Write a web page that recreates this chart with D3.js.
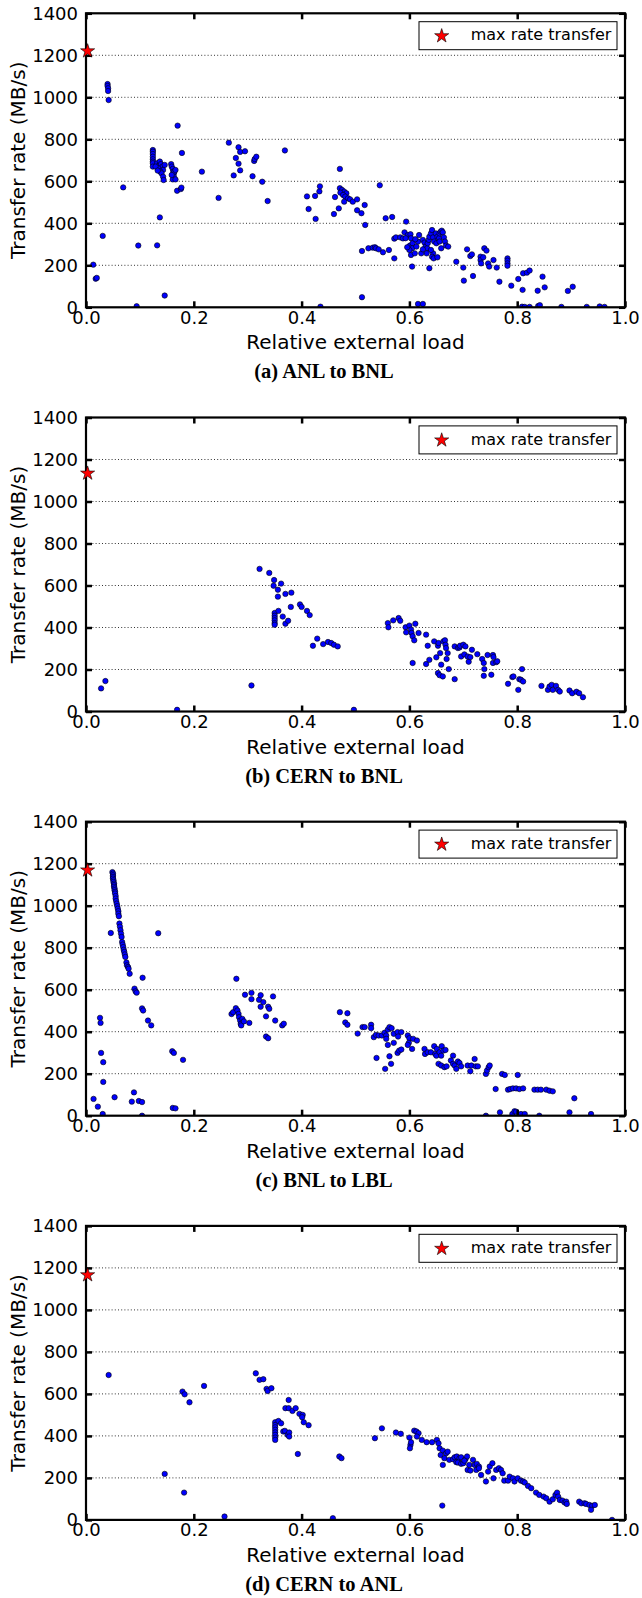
<!DOCTYPE html>
<html><head><meta charset="utf-8">
<script src="https://cdn.jsdelivr.net/npm/d3@7"></script>
<style>body{margin:0;background:#fff}</style>
</head><body>
<svg id="c" width="642" height="1598" xmlns="http://www.w3.org/2000/svg"></svg>
<script>
const xTicks = [0, 0.2, 0.4, 0.6, 0.8, 1.0];
const yTicks = [0, 200, 400, 600, 800, 1000, 1200, 1400];
const gridValues = [200, 400, 600, 800, 1000, 1200];
const captions = ["(a) ANL to BNL", "(b) CERN to BNL", "(c) BNL to LBL", "(d) CERN to ANL"];
const xLabel = "Relative external load";
const yLabel = "Transfer rate (MB/s)";
const legendLabel = "max rate transfer";
const maxRate = [1220, 1134, 1169, 1166];
const maxLoad = [0.003, 0.003, 0.003, 0.003];

const anlToBnl = [
[0.0135,203],[0.018,136],[0.020,140],[0.031,340],[0.040,1063],[0.040,1054],[0.041,1043],[0.041,1030],[0.042,987],[0.069,571],[0.094,5],[0.097,294],
[0.124,749],[0.124,741],[0.124,730],[0.124,717],[0.124,705],[0.124,694],[0.124,686],[0.124,670],
[0.132,686],[0.135,674],[0.137,694],[0.139,682],[0.142,670],[0.143,654],[0.134,662],[0.138,646],[0.140,638],[0.143,622],[0.144,606],[0.129,670],[0.133,651],[0.146,678],
[0.158,682],[0.159,670],[0.161,659],[0.162,646],[0.163,638],[0.164,646],[0.166,654],[0.163,622],[0.161,609],[0.166,609],[0.159,630],
[0.169,555],[0.176,563],[0.177,570],[0.170,865],[0.178,735],[0.132,295],[0.137,428],[0.146,56],
[0.215,646],[0.246,521],[0.265,784],[0.274,628],[0.278,711],[0.283,762],[0.286,740],[0.283,684],[0.286,652],[0.295,743],[0.309,624],[0.312,697],[0.313,706],[0.316,717],[0.327,598],[0.337,506],[0.369,747],
[0.410,528],[0.413,468],[0.425,530],[0.426,421],[0.433,552],[0.434,576],[0.435,3],[0.460,444],[0.462,525],[0.469,471],[0.471,659],[0.471,567],[0.475,559],[0.479,551],[0.483,543],[0.472,546],[0.477,535],[0.481,527],[0.486,519],[0.490,514],[0.479,503],[0.495,503],[0.503,514],[0.503,462],
[0.511,448],[0.517,487],[0.518,392],[0.545,581],[0.556,424],[0.568,430],[0.594,408],[0.512,48],[0.512,268],[0.524,281],[0.532,284],[0.536,286],[0.538,281],[0.543,276],[0.551,262],[0.562,273],[0.572,233],[0.572,327],[0.575,333],[0.583,333],[0.588,328],
[0.591,357],[0.597,344],[0.602,348],[0.593,329],[0.603,329],[0.601,294],[0.606,305],[0.605,281],[0.600,273],[0.603,249],[0.605,194],[0.596,286],[0.610,257],[0.613,289],[0.616,313],[0.618,344],[0.611,324],
[0.625,321],[0.628,308],[0.630,289],[0.633,281],[0.634,305],[0.636,321],[0.637,336],[0.640,352],[0.642,368],[0.644,333],[0.646,313],[0.650,305],[0.649,352],[0.652,336],[0.655,329],[0.656,352],[0.658,360],[0.660,365],[0.662,357],[0.664,333],[0.666,313],[0.668,294],[0.672,289],[0.656,313],[0.659,281],[0.644,257],[0.642,241],[0.645,233],[0.637,186],[0.652,238],[0.640,273],[0.632,257],[0.622,257],[0.625,276],
[0.687,217],[0.700,189],[0.701,127],[0.707,276],[0.713,244],[0.716,252],[0.718,149],[0.732,241],[0.732,225],[0.733,209],[0.737,238],[0.739,281],[0.743,270],[0.746,209],[0.748,194],[0.756,225],[0.762,189],[0.767,122],[0.782,233],[0.782,222],[0.782,209],[0.782,198],[0.789,103],[0.802,135],[0.810,83],[0.811,162],[0.818,165],[0.823,175],[0.838,79],[0.847,146],[0.851,95],[0.894,78],[0.903,98],
[0.616,16],[0.625,16],[0.809,3],[0.814,2],[0.823,2],[0.839,6],[0.842,10],[0.882,2],[0.929,2],[0.953,4],[0.962,2]
];

const cernToBnl = [
[0.028,110],[0.036,145],[0.169,8],[0.307,124],[0.322,679],[0.340,660],[0.349,626],[0.348,599],[0.362,609],[0.356,580],[0.356,547],[0.370,560],[0.381,566],[0.380,498],[0.397,510],[0.400,498],[0.410,479],[0.415,459],[0.350,469],[0.350,456],[0.350,445],[0.350,434],[0.350,421],[0.350,413],[0.357,479],[0.365,452],[0.370,418],[0.375,432],[0.421,313],[0.429,347],[0.440,321],[0.449,331],[0.455,326],[0.460,318],[0.467,310],[0.497,8],
[0.560,421],[0.561,401],[0.570,434],[0.580,445],[0.583,432],[0.593,401],[0.594,377],[0.600,409],[0.603,390],[0.604,374],[0.606,358],[0.611,418],[0.609,339],[0.617,374],[0.606,231],[0.631,366],[0.634,313],[0.631,226],[0.637,246],
[0.646,334],[0.650,258],[0.653,313],[0.654,326],[0.657,278],[0.659,223],[0.653,183],[0.656,173],[0.662,167],[0.663,334],[0.666,339],[0.667,318],[0.668,302],[0.671,278],[0.673,202],[0.669,250],[0.684,154],[0.684,310],[0.690,302],[0.693,305],[0.694,313],[0.700,318],[0.704,310],[0.696,262],[0.702,272],[0.710,237],[0.708,262],[0.713,259],[0.716,294],[0.726,273],[0.735,250],[0.738,231],[0.739,202],[0.738,170],[0.745,269],[0.755,269],[0.756,259],[0.755,231],[0.761,235],[0.763,239],[0.752,175],[0.783,132],[0.791,164],[0.793,167],[0.802,103],[0.804,154],[0.809,202],[0.807,151],[0.811,143],[0.845,122],[0.857,103],[0.860,119],[0.864,127],[0.866,103],[0.872,122],[0.876,103],[0.879,95],[0.897,100],[0.902,87],[0.910,94],[0.915,87],[0.922,68]
];

const bnlToLbl = [
[0.049,1160],[0.050,1153],[0.050,1145],[0.050,1137],[0.050,1129],[0.051,1121],[0.051,1113],[0.052,1105],[0.052,1098],[0.052,1090],[0.053,1082],[0.053,1074],[0.054,1066],[0.054,1058],[0.055,1046],[0.055,1034],[0.056,1022],[0.057,1010],[0.058,998],[0.059,986],[0.060,974],[0.060,962],[0.061,950],[0.062,915],[0.063,900],[0.064,883],[0.065,867],[0.066,851],[0.067,827],[0.068,815],[0.069,803],[0.070,790],[0.071,780],[0.072,768],[0.073,756],[0.075,730],[0.076,716],[0.078,708],[0.079,700],[0.081,676],[0.090,605],[0.092,592],[0.094,586],
[0.046,870],[0.134,869],[0.105,657],[0.104,511],[0.106,501],[0.115,453],[0.121,430],[0.026,466],[0.027,442],[0.028,299],[0.032,255],[0.032,161],[0.014,80],[0.022,43],[0.031,8],[0.053,88],[0.089,111],[0.085,67],[0.098,70],[0.104,65],[0.160,307],[0.163,299],[0.180,266],[0.161,37],[0.166,35],[0.104,0],
[0.279,652],[0.270,484],[0.273,493],[0.278,512],[0.281,501],[0.283,485],[0.284,469],[0.286,453],[0.287,437],[0.288,430],[0.290,461],[0.293,449],[0.303,442],[0.295,576],[0.307,585],[0.307,555],[0.321,552],[0.324,574],[0.324,519],[0.329,541],[0.338,519],[0.340,509],[0.334,473],[0.347,568],[0.351,453],[0.364,430],[0.367,438],[0.334,377],[0.338,369],
[0.471,493],[0.485,488],[0.481,444],[0.485,433],[0.504,391],
[0.513,422],[0.517,422],[0.529,433],[0.529,417],[0.534,374],[0.538,385],[0.543,382],[0.549,382],[0.554,395],[0.557,382],[0.560,410],[0.563,422],[0.567,417],[0.571,390],[0.578,398],[0.585,398],[0.579,377],[0.557,366],[0.560,337],[0.571,347],[0.578,299],[0.581,310],[0.585,315],[0.563,283],[0.566,247],[0.555,223],[0.539,275],[0.597,382],[0.600,369],[0.599,347],[0.597,337],[0.605,318],[0.607,366],[0.614,358],
[0.628,318],[0.629,294],[0.634,302],[0.640,302],[0.646,331],[0.648,294],[0.651,318],[0.650,286],[0.656,302],[0.660,331],[0.659,286],[0.663,310],[0.667,313],[0.654,247],[0.659,239],[0.665,231],[0.669,235],[0.681,286],[0.677,263],[0.681,247],[0.684,239],[0.687,223],[0.690,258],[0.693,251],[0.696,235],[0.708,239],[0.713,212],[0.715,239],[0.721,270],[0.723,235],[0.727,235],[0.742,199],[0.744,215],[0.747,231],[0.749,239],[0.772,199],[0.777,194],[0.801,194],[0.760,127],[0.783,124],[0.787,127],[0.792,130],[0.798,130],[0.804,127],[0.811,130],[0.832,124],[0.838,124],[0.844,124],[0.854,124],[0.860,119],[0.866,116],[0.906,83],
[0.768,16],[0.791,8],[0.795,21],[0.798,19],[0.807,8],[0.814,8],[0.841,0],[0.897,16],[0.937,8],[0.742,0]
];

const cernToAnl = [
[0.042,690],[0.146,219],[0.182,130],[0.179,611],[0.183,598],[0.192,560],[0.219,638],[0.257,16],[0.315,698],[0.322,667],[0.329,670],[0.335,624],[0.337,614],[0.344,627],[0.376,571],[0.370,532],[0.376,532],[0.383,519],[0.389,532],[0.396,505],[0.402,500],[0.401,489],[0.404,465],[0.413,451],
[0.351,465],[0.351,452],[0.351,441],[0.351,429],[0.351,417],[0.351,405],[0.351,392],[0.351,381],[0.357,471],[0.362,460],[0.366,421],[0.369,424],[0.374,405],[0.377,416],[0.377,397],[0.393,314],[0.470,302],[0.474,294],[0.458,8],
[0.536,389],[0.549,436],[0.575,416],[0.584,410],[0.600,392],[0.602,357],[0.603,370],[0.601,341],[0.609,425],[0.613,421],[0.617,413],[0.614,397],[0.623,381],[0.632,370],[0.642,370],[0.651,381],[0.654,365],[0.656,341],[0.662,330],[0.668,317],[0.671,325],[0.658,309],[0.665,294],[0.662,262],[0.661,68],
[0.674,286],[0.681,289],[0.684,298],[0.688,302],[0.693,294],[0.696,298],[0.687,275],[0.690,273],[0.696,267],[0.700,270],[0.704,289],[0.707,302],[0.702,282],[0.711,262],[0.708,238],[0.713,235],[0.718,286],[0.721,262],[0.725,267],[0.729,254],[0.724,238],[0.729,246],[0.733,214],[0.742,183],[0.746,230],[0.749,254],[0.754,270],[0.756,198],[0.761,238],[0.766,246],[0.770,238],[0.773,222],[0.776,187],[0.783,187],[0.786,206],[0.792,198],[0.795,183],[0.801,198],[0.807,187],[0.811,183],[0.814,178],[0.820,162],[0.826,151],[0.835,130],[0.841,119],[0.849,111],[0.854,103],[0.860,87],[0.866,98],[0.871,119],[0.874,130],[0.876,111],[0.879,95],[0.884,92],[0.888,83],[0.891,87],[0.892,76],[0.915,87],[0.919,79],[0.925,79],[0.928,76],[0.934,71],[0.939,67],[0.944,71],[0.937,48],[0.976,0]
];

const panels = [anlToBnl, cernToBnl, bnlToLbl, cernToAnl];

const svg = d3.select("#c");
const L = 86, R = 625, H = 294, STEP = 404.2, TOP0 = 13.3;
const sans = "'DejaVu Sans', sans-serif";
const star = d3.symbol().type(d3.symbolStar).size(62);

panels.forEach((pts, i) => {
  const top = TOP0 + i * STEP;
  const x = d3.scaleLinear().domain([0, 1]).range([L, R]);
  const y = d3.scaleLinear().domain([0, 1400]).range([top + H, top]);
  const g = svg.append("g");

  g.append("clipPath").attr("id", "clip" + i)
    .append("rect").attr("x", L).attr("y", top).attr("width", R - L).attr("height", H);

  // grid
  g.append("g").selectAll("line").data(gridValues).join("line")
    .attr("x1", L).attr("x2", R).attr("y1", d => y(d)).attr("y2", d => y(d))
    .attr("stroke", "#000").attr("stroke-width", 0.8).attr("stroke-dasharray", "1,2.2");

  // points
  g.append("g").attr("clip-path", `url(#clip${i})`).selectAll("circle").data(pts).join("circle")
    .attr("cx", d => x(d[0])).attr("cy", d => y(d[1])).attr("r", 2.7)
    .attr("fill", "#0000ff").attr("stroke", "#000").attr("stroke-width", 0.6);

  // axes
  const fmtX = d3.format(".1f");
  const bottom = g.append("g").attr("transform", `translate(0,${top + H})`)
    .call(d3.axisBottom(x).tickValues(xTicks).tickFormat(fmtX).tickSizeInner(-6).tickSizeOuter(0).tickPadding(3.5));
  const left = g.append("g").attr("transform", `translate(${L},0)`)
    .call(d3.axisLeft(y).tickValues(yTicks).tickFormat(d3.format("d")).tickSizeInner(-6).tickSizeOuter(0).tickPadding(8));
  const topAx = g.append("g").attr("transform", `translate(0,${top})`)
    .call(d3.axisTop(x).tickValues(xTicks).tickFormat("").tickSizeInner(-6).tickSizeOuter(0));
  const rightAx = g.append("g").attr("transform", `translate(${R},0)`)
    .call(d3.axisRight(y).tickValues(yTicks).tickFormat("").tickSizeInner(-6).tickSizeOuter(0));
  [bottom, left, topAx, rightAx].forEach(a => {
    a.select(".domain").remove();
    a.selectAll(".tick line").attr("stroke", "#000").attr("stroke-width", 2.5);
    a.attr("font-family", sans).attr("font-size", 18);
    a.selectAll(".tick text").attr("fill", "#000");
  });

  // frame
  g.append("rect").attr("x", L).attr("y", top).attr("width", R - L).attr("height", H)
    .attr("fill", "none").attr("stroke", "#000").attr("stroke-width", 2.2);

  // max rate star
  g.append("path").attr("d", star)
    .attr("transform", `translate(${x(maxLoad[i])},${y(maxRate[i])})`)
    .attr("fill", "#ff0000").attr("stroke", "#000").attr("stroke-width", 0.6);

  // legend
  const bx = R - 8 - 198, by = top + 8.4;
  g.append("rect").attr("x", bx).attr("y", by).attr("width", 198).attr("height", 28)
    .attr("fill", "#fff").attr("stroke", "#000").attr("stroke-width", 1);
  g.append("path").attr("d", star).attr("transform", `translate(${bx + 22.7},${by + 14.3})`)
    .attr("fill", "#ff0000").attr("stroke", "#000").attr("stroke-width", 0.6);
  g.append("text").attr("x", bx + 51.7).attr("y", by + 18.6)
    .attr("font-family", sans).attr("font-size", 16).attr("fill", "#000").text(legendLabel);

  // labels
  g.append("text").attr("x", (L + R) / 2).attr("y", top + H + 42)
    .attr("text-anchor", "middle").attr("font-family", sans).attr("font-size", 20).attr("fill", "#000")
    .text(xLabel);
  g.append("text").attr("transform", `translate(25,${top + H / 2}) rotate(-90)`)
    .attr("text-anchor", "middle").attr("font-family", sans).attr("font-size", 20).attr("fill", "#000")
    .text(yLabel);
  g.append("text").attr("x", 324).attr("y", top + H + 71)
    .attr("text-anchor", "middle").attr("font-family", "'Liberation Serif', 'Times New Roman', serif")
    .attr("font-weight", "bold").attr("font-size", 20.5).attr("fill", "#000")
    .text(captions[i]);
});
</script>
</body></html>
